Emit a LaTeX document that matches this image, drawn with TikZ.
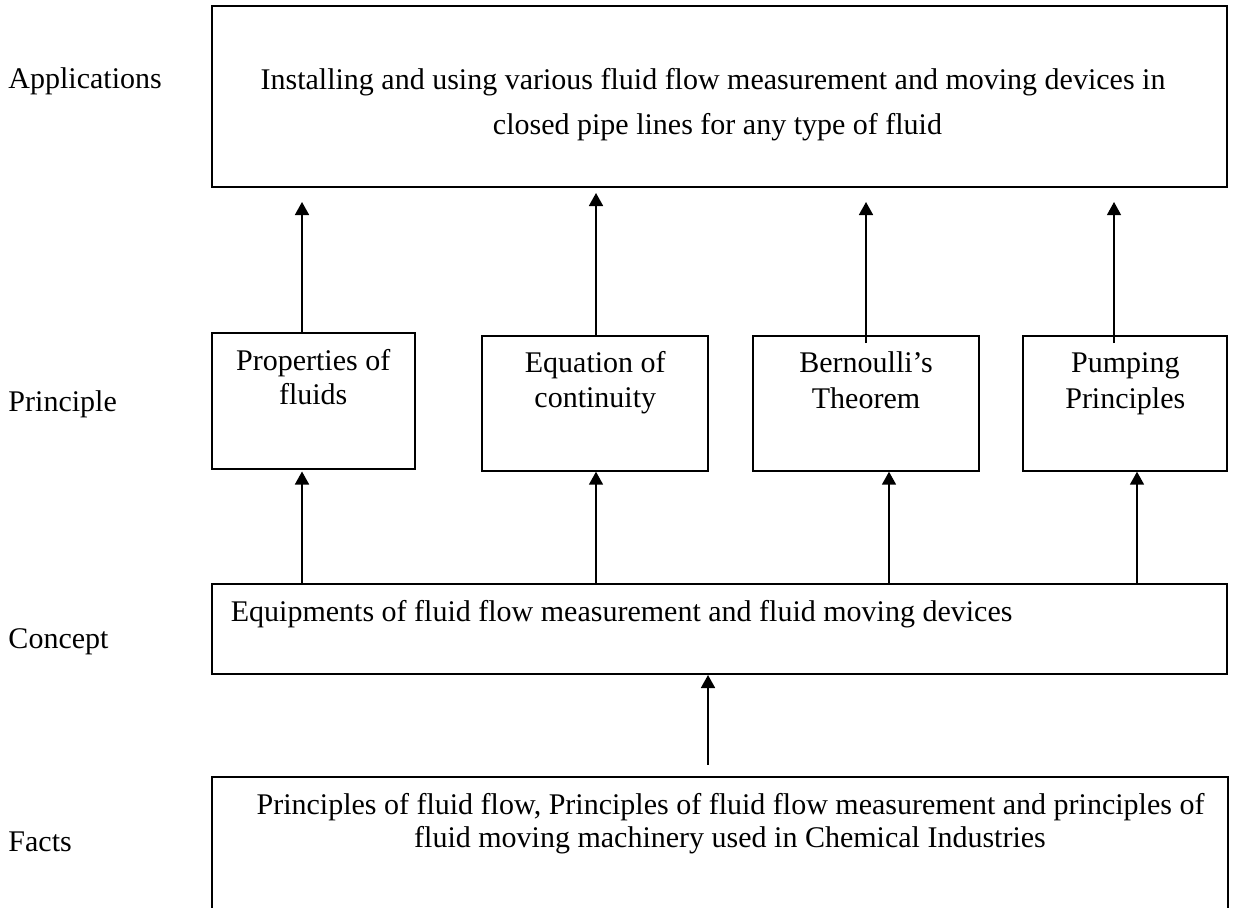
\documentclass[tikz,border=0pt]{standalone}
\usepackage{fontspec}
\setmainfont{Liberation Serif}
\usetikzlibrary{arrows.meta}
\begin{document}
\begin{tikzpicture}[x=1pt,y=-1pt,
  box/.style={draw, line width=1.8pt, rectangle, inner sep=0pt, outer sep=0pt},
  txt/.style={font=\fontsize{30}{34.5}\selectfont, inner sep=0pt, anchor=base},
  lbl/.style={txt, anchor=base west},
  ltxt/.style={txt, anchor=base west},
  arr/.style={line width=1.7pt, -{Triangle[length=13pt,width=14pt]}},
  thinarr/.style={arr, line width=1.1pt},
]
\useasboundingbox (0,0) rectangle (1249,907);
\clip (0,0) rectangle (1249,907);

% boxes
\node[box, minimum width=1015pt, minimum height=181pt] (app) at (719.5,96.5) {};
\node[box, minimum width=203pt, minimum height=136pt] (p1) at (313.5,401) {};
\node[box, minimum width=226pt, minimum height=135pt] (p2) at (595,403.5) {};
\node[box, minimum width=226pt, minimum height=135pt] (p3) at (866,403.5) {};
\node[box, minimum width=204pt, minimum height=135pt] (p4) at (1125,403.5) {};
\node[box, minimum width=1015pt, minimum height=90pt] (con) at (719.5,629) {};
\node[box, minimum width=1016pt, minimum height=163pt] (facts) at (720,858.5) {};

% side labels
\node[lbl] (lapp) at (8.3,88) {Applications};
\node[lbl] (lpri) at (8.3,411.7) {Principle};
\node[lbl] (lcon) at (8.3,648) {Concept};
\node[lbl] (lfac) at (8.3,851.7) {Facts};

% box texts
\node[txt] (ta1) at (713,89) {Installing and using various fluid flow measurement and moving devices in};
\node[txt] (ta2) at (717.5,134) {closed pipe lines for any type of fluid};

\node[txt] (tp1a) at (313.2,370) {Properties of};
\node[txt] (tp1b) at (313.2,404.3) {fluids};
\node[txt] (tp2a) at (595.3,372.7) {Equation of};
\node[txt] (tp2b) at (595.3,407.7) {continuity};
\node[txt] (tp3a) at (866,372.7) {Bernoulli’s};
\node[txt] (tp3b) at (866,408.3) {Theorem};
\node[txt] (tp4a) at (1125.3,372.7) {Pumping};
\node[txt] (tp4b) at (1125.3,408.3) {Principles};

\node[ltxt] (tc) at (230.7,621.7) {Equipments of fluid flow measurement and fluid moving devices};

\node[txt] (tf1) at (730.5,814) {Principles of fluid flow, Principles of fluid flow measurement and principles of};
\node[txt] (tf2) at (730,847) {fluid moving machinery used in Chemical Industries};

% arrows principle -> applications (x = 302, 596, 866, 1114)
\draw[arr] ([xshift=-11.5pt]p1.north) -- ([xshift=-417.5pt,yshift=-15pt]app.south);
\draw[arr] ([xshift=1pt]p2.north) -- ([xshift=-123.5pt,yshift=-6pt]app.south);
\draw[arr] ([yshift=-7pt]p3.north) -- ([xshift=146.5pt,yshift=-15pt]app.south);
\draw[thinarr] ([xshift=-11pt,yshift=-7pt]p4.north) -- ([xshift=394.5pt,yshift=-15pt]app.south);

% arrows concept -> principle (x = 302, 596, 889, 1137)
\draw[arr] ([xshift=-417.5pt]con.north) -- ([xshift=-11.5pt,yshift=-2.5pt]p1.south);
\draw[arr] ([xshift=-123.5pt]con.north) -- ([xshift=1pt,yshift=-0.7pt]p2.south);
\draw[arr] ([xshift=169.5pt]con.north) -- ([xshift=23pt,yshift=-0.7pt]p3.south);
\draw[arr] ([xshift=417.5pt]con.north) -- ([xshift=12pt,yshift=-0.7pt]p4.south);

% arrow facts -> concept (x = 708)
\draw[arr] ([xshift=-12pt,yshift=12.5pt]facts.north) -- ([xshift=-11.5pt,yshift=-1pt]con.south);
\end{tikzpicture}
\end{document}
